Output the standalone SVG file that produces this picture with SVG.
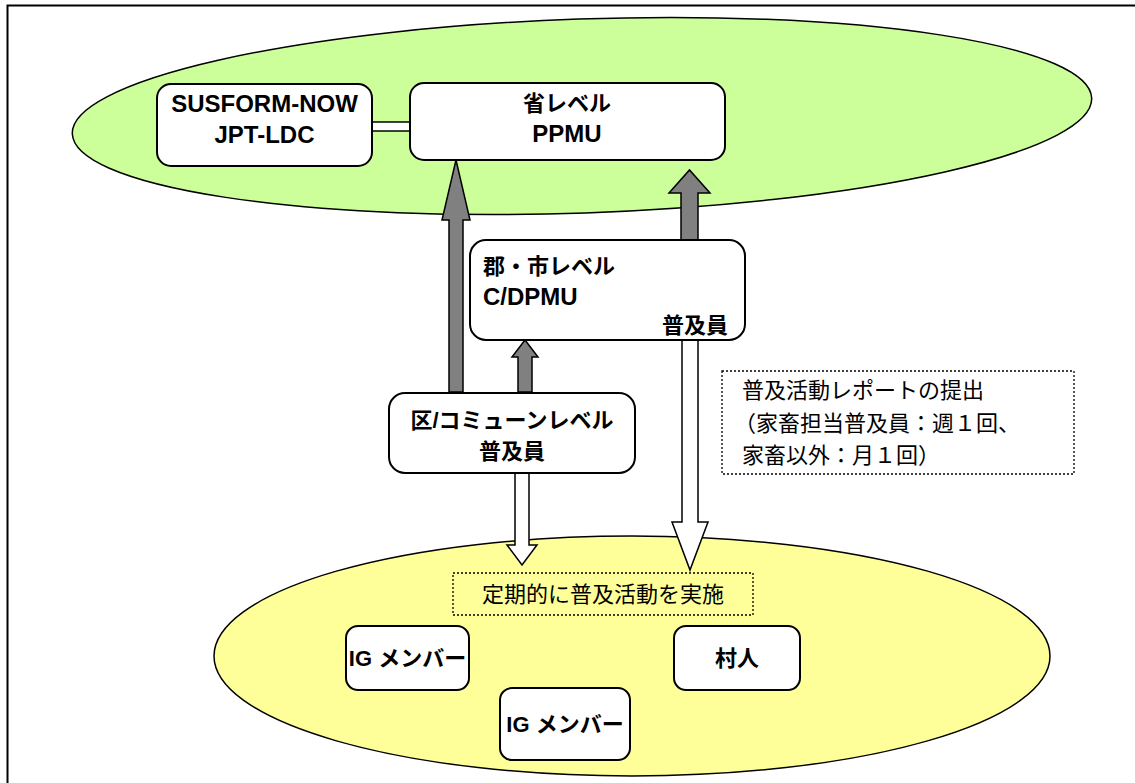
<svg xmlns="http://www.w3.org/2000/svg" width="1135" height="783" viewBox="0 0 1135 783">
<defs>
<style>
.box{fill:#fff;stroke:#000;stroke-width:2}
.b{font-family:"Liberation Sans","Noto Sans CJK JP",sans-serif;font-weight:bold;font-size:22px;fill:#000}
.l{font-size:24px}
.r{font-family:"Liberation Sans","Noto Sans CJK JP",sans-serif;font-size:22px;fill:#000}
.ga{fill:#808080;stroke:#000;stroke-width:1.5}
.wa{fill:#fff;stroke:#000;stroke-width:1.5}
.dot{fill:none;stroke:#000;stroke-width:1.3;stroke-dasharray:2 2}
</style>
</defs>
<rect x="7.5" y="5.5" width="1140" height="800" fill="#fff" stroke="#000" stroke-width="2"/>
<ellipse id="green-area" cx="582" cy="116" rx="510" ry="97" transform="rotate(-2 582 116)" fill="#CCFF99" stroke="#000" stroke-width="1.5"/>
<ellipse id="yellow-area" cx="632" cy="656" rx="418" ry="120" fill="#FFFF99" stroke="#000" stroke-width="1.5"/>

<g id="connectors">
<rect x="372" y="122" width="38" height="9" class="wa"/>
<path class="ga" d="M449,392 L449,220 L442,220 L456,160 L470,220 L463,220 L463,392 Z"/>
<path class="ga" d="M681,240 L681,193 L669,193 L689.5,170 L710,193 L698,193 L698,240 Z"/>
<path class="ga" d="M518,392 L518,357 L512,357 L525,340 L538,357 L532,357 L532,392 Z"/>
<path class="wa" d="M515,473 L515,545 L507,545 L522,565 L537,545 L529,545 L529,473 Z"/>
<path class="wa" d="M682,340 L682,522 L672,522 L690,570 L708,522 L698,522 L698,340 Z"/>
</g>

<g id="susform">
<rect class="box" x="157" y="84" width="215" height="82" rx="14"/>
<text class="b l" x="264.5" y="112" text-anchor="middle">SUSFORM-NOW</text>
<text class="b l" x="264.5" y="143" text-anchor="middle">JPT-LDC</text>
</g>
<g id="ppmu">
<rect class="box" x="410" y="83" width="315" height="77" rx="14"/>
<text class="b" x="567" y="111" text-anchor="middle">省レベル</text>
<text class="b l" x="567" y="142" text-anchor="middle">PPMU</text>
</g>
<g id="cdpmu">
<rect class="box" x="470" y="240" width="275" height="100" rx="16"/>
<text class="b" x="483" y="274">郡・市レベル</text>
<text class="b l" x="483" y="305">C/DPMU</text>
<text class="b" x="728" y="333" text-anchor="end">普及員</text>
</g>
<g id="commune">
<rect class="box" x="389" y="393" width="246" height="80" rx="16"/>
<text class="b" x="512" y="428" text-anchor="middle">区/コミューンレベル</text>
<text class="b" x="512" y="459" text-anchor="middle">普及員</text>
</g>
<g id="report-note">
<rect class="dot" x="722" y="371" width="352" height="103"/>
<text class="r" x="742" y="398">普及活動レポートの提出</text>
<text class="r" x="734" y="431">（家畜担当普及員：週１回、</text>
<text class="r" x="742" y="463">家畜以外：月１回）</text>
</g>
<g id="activity-note">
<rect class="dot" x="453" y="573" width="300" height="42"/>
<text class="r" x="603" y="602" text-anchor="middle">定期的に普及活動を実施</text>
</g>
<g id="ig1">
<rect class="box" x="346" y="626" width="123" height="64" rx="12"/>
<text class="b" x="407.5" y="666" text-anchor="middle">IG メンバー</text>
</g>
<g id="villager">
<rect class="box" x="674" y="626" width="126" height="64" rx="12"/>
<text class="b" x="737" y="666" text-anchor="middle">村人</text>
</g>
<g id="ig2">
<rect class="box" x="500" y="688" width="130" height="72" rx="12"/>
<text class="b" x="565" y="732" text-anchor="middle">IG メンバー</text>
</g>
</svg>
